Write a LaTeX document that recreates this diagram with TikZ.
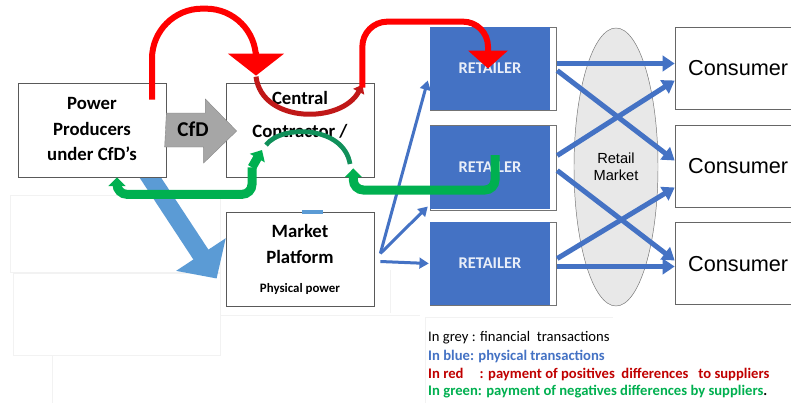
\documentclass[tikz,border=0pt]{standalone}
\usepackage{fontspec}
\setmainfont{Carlito}
\newfontfamily\arialfont{Liberation Sans}
\usetikzlibrary{arrows.meta,shapes.geometric,calc}
\definecolor{retblue}{HTML}{4472C4}
\definecolor{lightblue}{HTML}{5B9BD5}
\definecolor{cfdgrey}{HTML}{A6A6A6}
\definecolor{payred}{HTML}{FF0000}
\definecolor{arcred}{HTML}{C01818}
\definecolor{paygreen}{HTML}{00B050}
\definecolor{arcgreen}{HTML}{10905A}
\definecolor{legred}{HTML}{C00000}

\begin{document}
\begin{tikzpicture}[x=0.3mm, y=-0.3mm,
    box/.style={draw=black!65, line width=0.6pt, fill=white, minimum width=44.4mm, minimum height=28.2mm, inner sep=0pt},
    boxtext/.style={font=\bfseries\fontsize{16}{22}\selectfont, align=center, inner sep=0pt},
    retbox/.style={fill=retblue, minimum width=36mm, minimum height=25mm, inner sep=0pt, text=white!88!retblue, font=\bfseries\fontsize{14}{16}\selectfont},
    retframe/.style={draw=black!55, line width=0.5pt},
    conbox/.style={draw=black!60, line width=0.6pt, fill=white, minimum width=36.6mm, minimum height=24.6mm, inner sep=0pt},
    cons/.style={font=\arialfont\fontsize{18.5}{20}\selectfont, anchor=west, inner sep=0pt},
    sale/.style={retblue, line width=1.5mm, -{Triangle[width=4.6mm,length=3.6mm]}},
    supply/.style={retblue, line width=0.9mm, -{Triangle[width=3.2mm,length=2.8mm]}},
    plus/.style={payred, line width=1.8mm},
    minus/.style={paygreen, line width=2.7mm, rounded corners=3mm, -{Triangle[width=5mm,length=2.6mm]}},
    ghost/.style={draw=black!5, line width=0.5pt},
    legend/.style={anchor=west, inner sep=0pt, font=\fontsize{12.5}{15}\selectfont}
  ]
  \clip (0,0) rectangle (791,403);
  \fill[white] (0,0) rectangle (791,403);

  % faint frames left over in the background
  \draw[ghost] (10,195) rectangle (220,272);
  \draw[ghost] (13,273) rectangle (220,355);
  \draw[ghost] (52,355) -- (52,403);
  \draw[ghost] (220,315) -- (420,315);
  \draw[ghost] (390,270) -- (390,313);
  \draw[ghost] (425,317) -- (425,403);
  \draw[ghost] (425,317) -- (613,317);

  % market platform and the big physical arrow
  \node[box] (plat) at (300,259.5) {};
  \coordinate (pp) at (144,168);
  \draw[lightblue, line width=5.4mm, -{Triangle[width=17.3mm,length=8.6mm]}] (pp) -- ($(plat.west)+(-9,19)$);
  \fill[lightblue] (302,210) rectangle (323,214);

  % producers and contractor
  \node[box] (prod) at (92,130) {};
  \node[box] (ctr) at (300,130) {};
  \node[boxtext] (prodtxt) at (92,129) {Power\\Producers\\under CfD’s};
  \node[boxtext, font=\bfseries\fontsize{16}{28}\selectfont] (ctrtxt) at (300,115) {Central\\Contractor /};
  \node[boxtext] (plattxt) at (300,244) {Market\\Platform};
  \node[boxtext, font=\bfseries\fontsize{11}{13}\selectfont] (physical) at (300,289) {Physical power};

  % CfD arrow
  \draw[cfdgrey!80!black, line width=0.3pt, fill=cfdgrey] ($(prod.east)+(0,-17)$) -- ++(39,0) -- ++(0,-14)
    -- ($(ctr.west)+(11,1)$) -- ++(-33,32) -- ++(0,-16) -- ++(-39,0) -- cycle;
  \node[font=\bfseries\fontsize{18}{20}\selectfont] (cfd) at (193,129) {CfD};

  % retailers
  \draw[retframe] (430,27) rectangle (556,110);
  \draw[retframe] (430,125) rectangle (556,210);
  \draw[retframe] (430,222) rectangle (556,305);
  \node[retbox] (ret1) at (490,68.5) {RETAILER};
  \node[retbox] (ret2) at (490,167.5) {RETAILER};
  \node[retbox] (ret3) at (490,263.5) {RETAILER};

  % retail market
  \node[draw=black!55, fill=black!9, ellipse, minimum width=25.2mm, minimum height=83.4mm, inner sep=0pt,
    align=center, font=\arialfont\fontsize{12.5}{14.5}\selectfont] (mkt) at (616,167) {Retail\\Market};

  % consumers
  \node[conbox] (con1) at (736,68.5) {};
  \node[conbox] (con2) at (736,166.5) {};
  \node[conbox] (con3) at (736,263.5) {};
  \node[cons] (con1txt) at (688,68.5) {Consumer};
  \node[cons] (con2txt) at (688,166.5) {Consumer};
  \node[cons] (con3txt) at (688,264.5) {Consumer};

  % physical flows
  \draw[supply] ($(plat.east)+(6,-6)$) -- ($(ret1.west)+(-2,12)$);
  \draw[supply] ($(plat.east)+(6,-6)$) -- ($(ret2.west)+(-2,39)$);
  \draw[supply] ($(plat.east)+(6,2)$) -- ($(ret3.west)+(-1,0)$);
  \draw[sale] ($(ret1.east)+(7,-5)$) -- ($(con1.west)+(0,-5)$);
  \draw[sale] ($(ret1.east)+(7,2)$) -- ($(con2.west)+(0,-6)$);
  \draw[sale] ($(ret2.east)+(7,-12)$) -- ($(con1.west)+(0,12)$);
  \draw[sale] ($(ret2.east)+(7,3)$) -- ($(con3.west)+(0,-3)$);
  \draw[sale] ($(ret3.east)+(7,-5)$) -- ($(con2.west)+(0,21)$);
  \draw[sale] ($(ret3.east)+(7,3)$) -- ($(con3.west)+(0,3)$);

  % positive differences
  \draw[plus, rounded corners=15mm] ($(prod.north)+(60,17)$) -- ++(0,-91) -| ($(ctr.north)+(-44,-30)$);
  \draw[plus, -{Triangle[width=16.5mm,length=6.6mm]}] ($(ctr.north)+(-44,-31)$) -- ($(ctr.north)+(-44,-7)$);
  \draw[arcred, line width=1.5mm, -{Triangle[width=3.6mm,length=2.4mm]}] ($(ctr.north)+(-44,-6)$)
    .. controls (262,124) and (342,124) .. ($(ctr.north east)+(-12,2)$);
  \draw[plus, rounded corners=7.5mm, -{Triangle[width=11.7mm,length=5.4mm]}] ($(ctr.north east)+(-12,5)$) -- ++(0,-66) -| ($(ret1)+(-2,0)$);

  % negative differences
  \draw[minus] ($(ret2)+(5,-12.5)$) -- ++(0,35) -| ($(ctr.south east)+(-21,-9)$);
  \draw[arcgreen, line width=1.4mm] (350,164) .. controls (344,126) and (282,124) .. (266,145);
  \draw[paygreen, line width=2.7mm, -{Triangle[width=5mm,length=2.8mm]}] ($(ctr.south)+(-48,-10)$) -- (262,150);
  \draw[minus] ($(ctr.south)+(-48,-10)$) -- ++(0,27) -| ($(prod.south)+(25,0)$);

  % legend
  \node[legend] (leg1) at (428,338) {In grey : financial\ \ transactions};
  \node[legend, text=retblue, font=\bfseries\fontsize{12.5}{15}\selectfont] (leg2) at (428,356) {In blue: physical transactions};
  \node[legend, text=legred, font=\bfseries\fontsize{12.5}{15}\selectfont] (leg3) at (428,374) {In red\hspace{1.1em}: payment of positives\ \ differences\ \ \ to suppliers};
  \node[legend, text=paygreen, font=\bfseries\fontsize{12.5}{15}\selectfont] (leg4) at (428,392) {In green: payment of negatives differences by suppliers\textcolor{black}{.}};
\end{tikzpicture}
\end{document}
